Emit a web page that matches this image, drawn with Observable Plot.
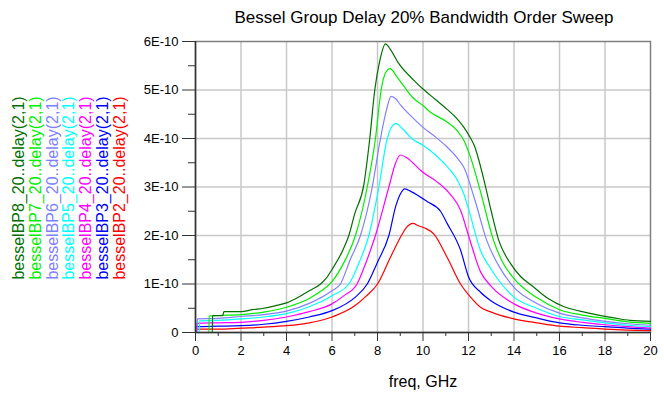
<!DOCTYPE html>
<html><head><meta charset="utf-8">
<script src="https://cdn.jsdelivr.net/npm/d3@7"></script>
<script src="https://cdn.jsdelivr.net/npm/@observablehq/plot@0.6"></script>
<style>
body{margin:0;background:#fff;font-family:"Liberation Sans",Arial,sans-serif;}
#wrap{position:relative;width:664px;height:395px;overflow:hidden;background:#fff;}
#title{position:absolute;left:195px;width:458px;top:8px;text-align:center;font-size:17px;line-height:20px;color:#000;white-space:nowrap;}
.leg{position:absolute;font-size:16px;line-height:17px;white-space:nowrap;transform:translate(-50%,-50%) rotate(-90deg);}
#chart{position:absolute;left:0;top:0;}
</style></head><body>
<div id="wrap"><div id="chart"></div><div id="title">Bessel Group Delay 20% Bandwidth Order Sweep</div></div>
<script>
// Series names and colours (legend order, left to right)
const seriesNames = ["besselBP8_20..delay(2,1)","besselBP7_20..delay(2,1)","besselBP6_20..delay(2,1)","besselBP5_20..delay(2,1)","besselBP4_20..delay(2,1)","besselBP3_20..delay(2,1)","besselBP2_20..delay(2,1)"];
const seriesColors = ["#007000","#00ee00","#8080ff","#00ffff","#ff00ff","#0000ff","#ff0000"];

// Axis ticks (delay in units of 1E-10 s, freq in GHz)
const xMajor = [0,2,4,6,8,10,12,14,16,18,20];
const xMinor = [1,3,5,7,9,11,13,15,17,19];
const yMajor = [0,1,2,3,4,5,6];
const yLabels = ["0","1E-10","2E-10","3E-10","4E-10","5E-10","6E-10"];
const yMinor = [0.5,1.5,2.5,3.5,4.5,5.5];

// freq (GHz) / delay (1E-10 s) per series
const bp8F = [0,0.74,0.75,1.2,1.25,2,2.5,3,3.5,4,4.5,5,5.5,5.75,6,6.5,6.74,7,7.4,7.66,7.88,8.1,8.35,8.55,8.9,9.6,10,10.33,11.06,11.45,11.8,12.1,12.25,12.65,13.0,13.33,13.85,14.3,14.75,15.5,16.2,16.9,17.7,18.4,19.1,20];
const bp8D = [0,0,0.35,0.35,0.43,0.43,0.47,0.5,0.55,0.61,0.72,0.86,1.0,1.12,1.3,1.72,2.0,2.45,3.05,4.0,5.0,5.6,5.95,5.85,5.57,5.2,5.02,4.89,4.6,4.43,4.23,4.0,3.86,3.2,2.5,1.9,1.42,1.15,0.98,0.7,0.53,0.44,0.36,0.30,0.25,0.23];

const bp7F = [0,0.59,0.6,1,2,3,4,5,5.5,6,6.5,7.03,7.55,7.91,8.16,8.35,8.55,8.87,9.6,10,10.33,11.06,11.5,11.8,12.09,12.53,13.1,13.5,14,15,16,17,18,19,20];
const bp7D = [0,0,0.34,0.35,0.37,0.42,0.52,0.70,0.85,1.05,1.42,2.0,3.0,4.0,5.0,5.35,5.44,5.26,4.82,4.68,4.54,4.34,4.16,3.96,3.61,2.9,1.9,1.45,1.11,0.72,0.47,0.36,0.29,0.22,0.19];

const bp6F = [0,0.07,0.08,1,2,3,4,5,6,6.37,6.8,7.25,7.77,8.13,8.4,8.6,8.8,9,9.5,10,10.5,11,11.5,11.8,12.3,12.8,13.3,14,15,16,17,18,19,20];
const bp6D = [0,0,0.28,0.29,0.33,0.37,0.44,0.6,0.86,1.0,1.5,2.0,3.0,4.0,4.6,4.87,4.82,4.7,4.45,4.23,4.05,3.85,3.6,3.4,2.7,1.9,1.4,0.93,0.6,0.4,0.3,0.23,0.18,0.15];

const bp5F = [0,0.17,0.18,1,2,3,4,5,6,6.74,7.2,7.62,8.06,8.43,8.8,9.1,9.5,10,10.5,11,11.5,11.8,12,12.53,13,14,15,16,17,18,19,20];
const bp5D = [0,0,0.24,0.25,0.28,0.32,0.39,0.53,0.76,1.0,1.45,2.0,3.0,4.0,4.31,4.2,4.0,3.86,3.68,3.45,3.15,2.85,2.55,1.69,1.3,0.73,0.5,0.33,0.26,0.2,0.15,0.12];

const bp4F = [0,0.05,0.06,1,2,3,4,5,6,6.5,7.1,7.5,7.91,8.5,8.8,9.0,9.3,9.9,10.77,11.2,11.65,12,12.53,13,14,15,16,17,18,19,20];
const bp4D = [0,0,0.19,0.2,0.21,0.25,0.32,0.43,0.59,0.75,1.0,1.45,2.0,3.0,3.5,3.66,3.6,3.34,3.05,2.85,2.52,2.0,1.25,0.95,0.59,0.4,0.28,0.21,0.16,0.12,0.09];

const bp3F = [0,0.03,0.04,1,2,3,4,5,6,7,7.55,8,8.5,8.8,9.0,9.2,9.5,10.18,10.77,11.06,11.65,12,12.53,13,14,15,16,17,18,19,20];
const bp3D = [0,0,0.12,0.13,0.14,0.17,0.23,0.32,0.45,0.72,1.0,1.45,2.0,2.6,2.85,2.96,2.9,2.7,2.5,2.25,1.7,1.15,0.83,0.65,0.42,0.3,0.2,0.15,0.12,0.09,0.07];

const bp2F = [0,0.01,0.02,1,2,3,4,5,6,7,7.5,8,8.57,9.05,9.25,9.55,9.8,10.1,10.48,11.06,11.65,12.09,12.53,13,14,15,16,17,18,19,20];
const bp2D = [0,0,0.07,0.07,0.09,0.11,0.14,0.2,0.32,0.55,0.75,1.0,1.55,2.0,2.15,2.25,2.2,2.15,2.03,1.55,1.0,0.73,0.52,0.42,0.28,0.2,0.13,0.1,0.07,0.05,0.04];

const seriesF = [bp8F,bp7F,bp6F,bp5F,bp4F,bp3F,bp2F];
const seriesD = [bp8D,bp7D,bp6D,bp5D,bp4D,bp3D,bp2D];

const rows = [];
seriesNames.forEach((name, s) => {
  seriesF[s].forEach((f, i) => rows.push({series: name, freq: f, delay: seriesD[s][i]}));
});
const drawRows = rows.slice().reverse();

const yLabelOf = new Map(yMajor.map((t, i) => [t, yLabels[i]]));

const chart = Plot.plot({
  width: 664, height: 395,
  marginLeft: 195, marginRight: 14, marginTop: 41, marginBottom: 63,
  style: {fontFamily: '"Liberation Sans", Arial, sans-serif', fontSize: "13px", color: "#000", background: "transparent", overflow: "visible"},
  x: {domain: [0, 20]},
  y: {domain: [0, 6]},
  color: {domain: seriesNames, range: seriesColors},
  marks: [
    Plot.gridX(xMajor.slice(1, -1), {stroke: "#c8c8c8", strokeOpacity: 1, strokeWidth: 1.5}),
    Plot.gridY(yMajor.slice(1, -1), {stroke: "#c8c8c8", strokeOpacity: 1, strokeWidth: 1.5}),
    Plot.frame({stroke: "#808080", strokeWidth: 1.5}),
    Plot.line(drawRows, {x: "freq", y: "delay", z: "series", stroke: "series", strokeWidth: 1.2, curve: "monotone-x"}),
    Plot.axisY(yMinor, {tickSize: 7, tickFormat: () => "", label: null, stroke: "#333"}),
    Plot.axisY(yMajor, {tickSize: 13, tickPadding: 4, tickFormat: d => yLabelOf.get(d), label: null, stroke: "#333"}),
    Plot.axisX(xMinor, {tickSize: 4, tickFormat: () => "", label: null, stroke: "#333"}),
    Plot.axisX(xMajor, {tickSize: 9, tickPadding: 4, label: null, stroke: "#333"}),
    Plot.ruleX([0], {stroke: "#333", strokeWidth: 1.5}),
    Plot.ruleY([0], {stroke: "#333", strokeWidth: 1.5}),
    Plot.text(["freq, GHz"], {text: d => d, frameAnchor: "bottom", dy: 54, fontSize: 16})
  ]
});
document.getElementById("chart").appendChild(chart);

const wrap = document.getElementById("wrap");
seriesNames.forEach((name, i) => {
  const d = document.createElement("div");
  d.className = "leg";
  d.textContent = name;
  d.style.color = seriesColors[i];
  d.style.left = (18 + i * 16.8) + "px";
  d.style.top = "187.5px";
  wrap.appendChild(d);
});
</script>
</body></html>
